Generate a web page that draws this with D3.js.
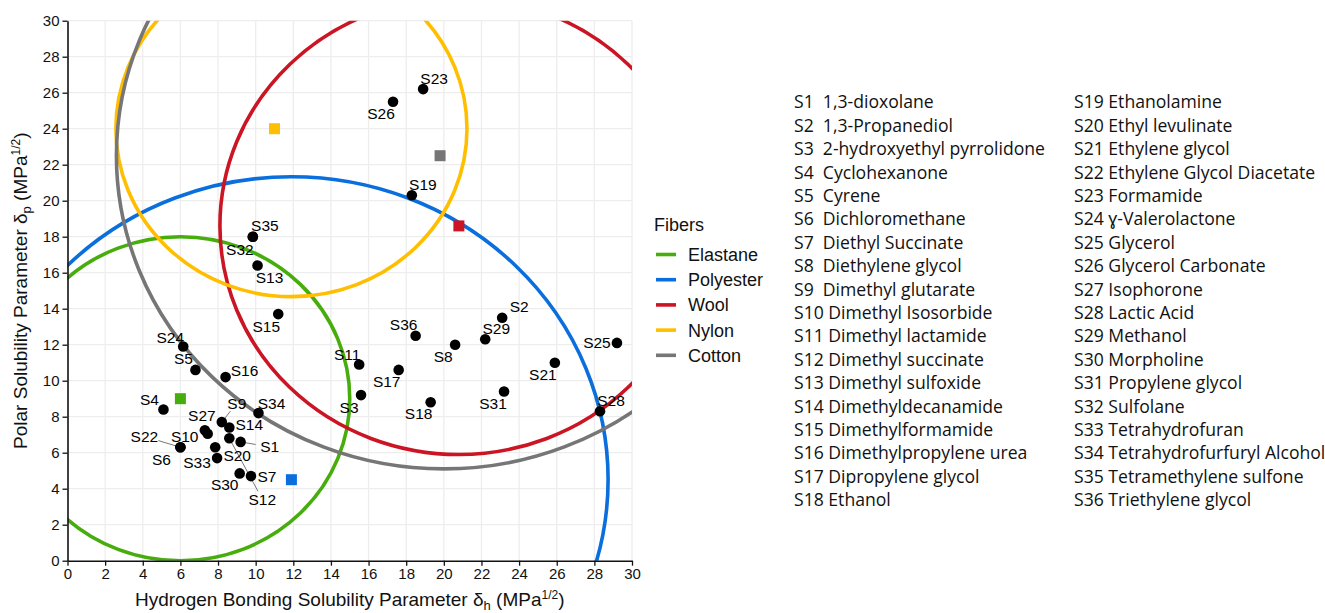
<!DOCTYPE html>
<html>
<head>
<meta charset="utf-8">
<script src="https://cdn.jsdelivr.net/npm/d3@7"></script>
<style>
  body { margin: 0; background: #fff; }
  svg { display: block; font-family: "Liberation Sans", Arial, sans-serif; }
</style>
</head>
<body>
<svg id="chart" width="1325" height="613"></svg>
<script>
// Solvents: code, name, hydrogen bonding (x) and polar (y) parameters
const solventCodes = ['S1','S2','S3','S4','S5','S6','S7','S8','S9','S10','S11','S12','S13','S14','S15','S16','S17','S18',
  'S19','S20','S21','S22','S23','S24','S25','S26','S27','S28','S29','S30','S31','S32','S33','S34','S35','S36'];
const solventNames = ['1,3-dioxolane','1,3-Propanediol','2-hydroxyethyl pyrrolidone','Cyclohexanone','Cyrene',
  'Dichloromethane','Diethyl Succinate','Diethylene glycol','Dimethyl glutarate','Dimethyl Isosorbide',
  'Dimethyl lactamide','Dimethyl succinate','Dimethyl sulfoxide','Dimethyldecanamide','Dimethylformamide',
  'Dimethylpropylene urea','Dipropylene glycol','Ethanol','Ethanolamine','Ethyl levulinate','Ethylene glycol',
  'Ethylene Glycol Diacetate','Formamide','ɣ-Valerolactone','Glycerol','Glycerol Carbonate','Isophorone',
  'Lactic Acid','Methanol','Morpholine','Propylene glycol','Sulfolane','Tetrahydrofuran',
  'Tetrahydrofurfuryl Alcohol','Tetramethylene sulfone','Triethylene glycol'];
const solventDh = [9.2, 23.1, 15.6, 5.1, 6.8, 6.0, 9.75, 20.6, 8.2, 7.45, 15.5, 8.6, 10.1, 8.6, 11.2, 8.4, 17.6, 19.3,
  18.3, 7.85, 25.9, 6.0, 18.9, 6.15, 29.2, 17.3, 7.3, 28.3, 22.2, 9.15, 23.2, 9.85, 7.95, 10.15, 9.85, 18.5];
const solventDp = [6.6, 13.5, 9.2, 8.4, 10.6, 6.3, 4.7, 12.0, 7.7, 7.05, 10.9, 6.8, 16.4, 7.4, 13.7, 10.2, 10.6, 8.8,
  20.3, 6.3, 11.0, 6.3, 26.2, 11.9, 12.1, 25.5, 7.25, 8.3, 12.3, 4.85, 9.4, 18.0, 5.7, 8.2, 18.0, 12.5];

// Fibers: marker position and solubility sphere (centre + radius)
const fibers = ['Elastane', 'Polyester', 'Wool', 'Nylon', 'Cotton'];
const fiberDh = [6, 11.9, 20.8, 11, 19.8];
const fiberDp = [9, 4.5, 18.6, 24, 22.5];
const sphereDh = [6, 11.9, 20.8, 11.9, 20.0];
const sphereDp = [9, 4.5, 18.6, 24.0, 22.5];
const sphereR = [9, 16.83, 12.7, 9.33, 17.4];

const xTicks = d3.range(0, 31, 2);
const yTicks = d3.range(0, 31, 2);

// label placement (pixel offsets from the point) — hand-tuned like ggrepel output
const labelOffset = {
  S1: [29, 5, 1], S2: [17, -11], S3: [-12, 12], S4: [-14, -10], S5: [-12, -11], S6: [-19, 12],
  S7: [16, 0], S8: [-12, 12], S9: [15, -19, 1], S10: [-23, 3], S11: [-12, -10], S12: [33, 61, 1],
  S13: [12, 12], S14: [20, -3], S15: [-12, 12], S16: [19, -7], S17: [-12, 12], S18: [-12, 11],
  S19: [11, -11], S20: [22, 8], S21: [-12, 12], S22: [-36, -11, 1], S23: [11, -11], S24: [-13, -9],
  S25: [-20, 0], S26: [-12, 12], S27: [-3, -15], S28: [11, -11], S29: [11, -11], S30: [-15, 11],
  S31: [-11, 12], S32: [-13, 13], S33: [-20, 4], S34: [13, -10], S35: [12, -11], S36: [-12, -11]
};

const COLORS = {
  Elastane: '#46AD0C',
  Polyester: '#0A6FDD',
  Wool: '#CB1524',
  Nylon: '#FFBE00',
  Cotton: '#767676'
};

const svg = d3.select('#chart');
const M = { left: 67.5, right: 632, top: 20.7, bottom: 560.7 };

const x = d3.scaleLinear().domain([0, 30]).range([M.left, M.right]);
const y = d3.scaleLinear().domain([0, 30]).range([M.bottom, M.top]);

svg.append('rect').attr('width', 1325).attr('height', 613).attr('fill', '#fff');

svg.append('defs').append('clipPath').attr('id', 'plot-clip')
  .append('rect')
  .attr('x', M.left).attr('y', M.top)
  .attr('width', M.right - M.left).attr('height', M.bottom - M.top);

// grid
const grid = svg.append('g').attr('class', 'grid');
grid.selectAll('line.gx').data(xTicks.filter(d => d > 0)).enter().append('line')
  .attr('x1', d => x(d)).attr('x2', d => x(d))
  .attr('y1', M.top).attr('y2', M.bottom)
  .attr('stroke', '#ededed').attr('stroke-width', 1.3);
grid.selectAll('line.gy').data(yTicks.filter(d => d > 0)).enter().append('line')
  .attr('y1', d => y(d)).attr('y2', d => y(d))
  .attr('x1', M.left).attr('x2', M.right)
  .attr('stroke', '#ededed').attr('stroke-width', 1.3);

// solubility spheres
const sphereLayer = svg.append('g').attr('clip-path', 'url(#plot-clip)');
fibers.forEach((f, i) => {
  sphereLayer.append('ellipse')
    .attr('cx', x(sphereDh[i]))
    .attr('cy', y(sphereDp[i]))
    .attr('rx', x(sphereR[i]) - x(0))
    .attr('ry', y(0) - y(sphereR[i]))
    .attr('fill', 'none')
    .attr('stroke', COLORS[f])
    .attr('stroke-width', 3.6);
});

// fiber markers
svg.append('g').selectAll('rect').data(fibers).enter().append('rect')
  .attr('x', (d, i) => x(fiberDh[i]) - 5.5)
  .attr('y', (d, i) => y(fiberDp[i]) - 5.5)
  .attr('width', 11).attr('height', 11)
  .attr('fill', d => COLORS[d]);

// axes
const xAxis = svg.append('g')
  .attr('transform', `translate(0,${M.bottom})`)
  .call(d3.axisBottom(x).tickValues(xTicks).tickSize(5).tickSizeOuter(0).tickPadding(3));
const yAxis = svg.append('g')
  .attr('transform', `translate(${M.left},0)`)
  .call(d3.axisLeft(y).tickValues(yTicks).tickSize(5).tickSizeOuter(0).tickPadding(3));
[xAxis, yAxis].forEach(a => {
  a.select('.domain').attr('stroke', '#111').attr('stroke-width', 1.6);
  a.selectAll('.tick line').attr('stroke', '#111').attr('stroke-width', 1.3);
  a.selectAll('.tick text').attr('fill', '#111')
    .attr('font-size', 15).attr('font-family', '"Liberation Sans", Arial, sans-serif');
});

// axis titles
const xTitle = svg.append('text')
  .attr('x', (M.left + M.right) / 2).attr('y', 606)
  .attr('text-anchor', 'middle').attr('font-size', 19).attr('fill', '#111');
xTitle.append('tspan').text('Hydrogen Bonding Solubility Parameter δ');
xTitle.append('tspan').attr('font-size', 13).attr('dy', 4).text('h');
xTitle.append('tspan').attr('dy', -4).text(' (MPa');
xTitle.append('tspan').attr('font-size', 12).attr('dy', -7).text('1/2');
xTitle.append('tspan').attr('dy', 7).text(')');

const yTitle = svg.append('text')
  .attr('transform', `translate(27,${(M.top + M.bottom) / 2}) rotate(-90)`)
  .attr('text-anchor', 'middle').attr('font-size', 19).attr('fill', '#111');
yTitle.append('tspan').text('Polar Solubility Parameter δ');
yTitle.append('tspan').attr('font-size', 13).attr('dy', 4).text('p');
yTitle.append('tspan').attr('dy', -4).text(' (MPa');
yTitle.append('tspan').attr('font-size', 12).attr('dy', -7).text('1/2');
yTitle.append('tspan').attr('dy', 7).text(')');

// solvent points
const pts = solventCodes.map((c, i) => ({ code: c, px: x(solventDh[i]), py: y(solventDp[i]) }));

const leaderLayer = svg.append('g');
pts.forEach(p => {
  const o = labelOffset[p.code];
  if (!o[2]) return;
  const lx = p.px + o[0], ly = p.py + o[1];
  // stop the segment at the edge of the label box
  const hw = 14, hh = 8;
  const dx = lx - p.px, dy = ly - p.py;
  const t = Math.min(hw / Math.abs(dx || 1e-6), hh / Math.abs(dy || 1e-6));
  leaderLayer.append('line')
    .attr('x1', p.px).attr('y1', p.py)
    .attr('x2', lx - dx * t).attr('y2', ly - dy * t)
    .attr('stroke', '#555').attr('stroke-width', 0.8);
});

svg.append('g').selectAll('circle').data(pts).enter().append('circle')
  .attr('cx', d => d.px).attr('cy', d => d.py).attr('r', 5.3)
  .attr('fill', '#000');

svg.append('g').selectAll('text').data(pts).enter().append('text')
  .attr('x', d => d.px + labelOffset[d.code][0])
  .attr('y', d => d.py + labelOffset[d.code][1])
  .attr('dy', '0.36em')
  .attr('text-anchor', 'middle')
  .attr('font-size', 15.5)
  .attr('fill', '#000')
  .text(d => d.code);

// legend
const legend = svg.append('g');
legend.append('text').attr('x', 654).attr('y', 225).attr('dy', '0.36em')
  .attr('font-size', 18).attr('fill', '#111').text('Fibers');
fibers.forEach((f, i) => {
  const ly = 254.5 + i * 25.2;
  legend.append('line')
    .attr('x1', 656).attr('x2', 676).attr('y1', ly).attr('y2', ly)
    .attr('stroke', COLORS[f]).attr('stroke-width', 3.6);
  legend.append('text').attr('x', 688).attr('y', ly).attr('dy', '0.36em')
    .attr('font-size', 18).attr('fill', '#111').text(f);
});

// solvent key, two columns
const key = svg.append('g')
  .attr('font-family', '"Open Sans", "Noto Sans", sans-serif')
  .attr('font-size', 17.6).attr('fill', '#111');
solventCodes.forEach((c, i) => {
  const col = i < 18 ? 0 : 1;
  const row = i % 18;
  const sep = c.length === 2 ? '\u00a0\u00a0' : ' ';
  key.append('text')
    .attr('x', col ? 1074 : 794)
    .attr('y', 102 + row * 23.4)
    .attr('dy', '0.36em')
    .text(c + sep + solventNames[i]);
});
</script>
</body>
</html>
